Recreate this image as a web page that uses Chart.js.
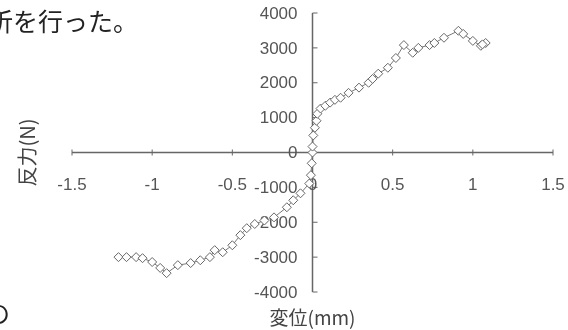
<!DOCTYPE html>
<html>
<head>
<meta charset="utf-8">
<script src="https://cdn.jsdelivr.net/npm/chart.js@4.4.1/dist/chart.umd.min.js"></script>
<style>
    html, body { margin: 0; padding: 0; background: #fff; }
    #wrap { position: relative; width: 568px; height: 330px; overflow: hidden; }
    #chartId { position: absolute; left: 0; top: 0; }
    .jp { position: absolute; font-family: "Noto Sans CJK JP"; color: #222; font-size: 25px; line-height: 1; white-space: nowrap; }
</style>
</head>
<body>
<div id="wrap">
    <canvas id="chartId" width="568" height="330"></canvas>
    <div class="jp" style="left:-12px; top:8px;">析を行った。</div>
    <div class="jp" style="left:-15px; top:300px;">の</div>
</div>
<script>
// displacement (mm) and reaction force (N),
// from the far negative end, through the origin, to the far positive end
const displacement = [
    -1.21, -1.16, -1.10, -1.06, -1.00, -0.95, -0.91, -0.84, -0.76, -0.70,
    -0.64, -0.61, -0.56, -0.50, -0.45, -0.41, -0.36, -0.30, -0.24, -0.16,
    -0.12, -0.075, -0.02, -0.01, -0.005, 0.0,
    0.0, 0.005, 0.015, 0.025, 0.03, 0.05, 0.08, 0.11, 0.14, 0.175,
    0.225, 0.29, 0.35, 0.375, 0.41, 0.47, 0.52, 0.57, 0.625, 0.66,
    0.73, 0.76, 0.82, 0.91, 0.94, 1.00, 1.05, 1.08, 1.06
];
const force = [
    -3000, -3000, -3000, -3030, -3140, -3310, -3460, -3230, -3170, -3090,
    -3000, -2800, -2860, -2660, -2370, -2170, -2050, -1950, -1860, -1570,
    -1370, -1170, -890, -650, -310, 0,
    170, 490, 710, 910, 1110, 1260, 1340, 1430, 1510, 1570,
    1710, 1860, 2000, 2110, 2260, 2430, 2710, 3080, 2860, 3000,
    3080, 3140, 3290, 3490, 3400, 3200, 3060, 3140, 3100
];

const xTicks = [-1.5, -1, -0.5, 0, 0.5, 1, 1.5];
const xTickLabels = ['-1.5', '-1', '-0.5', '0', '0.5', '1', '1.5'];
const yTicks = [4000, 3000, 2000, 1000, 0, -1000, -2000, -3000, -4000];
const yTickLabels = ['4000', '3000', '2000', '1000', '0', '-1000', '-2000', '-3000', '-4000'];

const xTitle = '変位(mm)';
const yTitle = '反力(N)';

document.addEventListener('DOMContentLoaded', function () {

    var points = displacement.map((d, i) => ({ x: d, y: force[i] }));

    // axes cross at the origin, so draw them ourselves from the scales
    const originAxes = {
        id: 'originAxes',
        beforeDatasetsDraw(chart) {
            const ctx = chart.ctx;
            const xs = chart.scales.x;
            const ys = chart.scales.y;
            const x0 = xs.getPixelForValue(0);
            const y0 = ys.getPixelForValue(0);
            ctx.save();
            ctx.strokeStyle = '#666';
            ctx.lineWidth = 1.5;

            ctx.beginPath();
            ctx.moveTo(xs.getPixelForValue(-1.5), y0);
            ctx.lineTo(xs.getPixelForValue(1.5), y0);
            ctx.stroke();

            ctx.beginPath();
            ctx.moveTo(x0, ys.getPixelForValue(4000));
            ctx.lineTo(x0, ys.getPixelForValue(-4000));
            ctx.stroke();

            ctx.lineWidth = 1;
            xTicks.forEach(v => {
                const px = xs.getPixelForValue(v);
                ctx.beginPath();
                ctx.moveTo(px, y0 - 3);
                ctx.lineTo(px, y0 + 3);
                ctx.stroke();
            });
            yTicks.forEach(v => {
                const py = ys.getPixelForValue(v);
                ctx.beginPath();
                ctx.moveTo(x0, py);
                ctx.lineTo(x0 + 5, py);
                ctx.stroke();
            });

            // tick labels
            ctx.fillStyle = '#555';
            ctx.font = '17px "Liberation Sans"';
            ctx.textBaseline = 'middle';
            ctx.textAlign = 'center';
            xTicks.forEach((v, i) => {
                ctx.fillText(xTickLabels[i], xs.getPixelForValue(v), y0 + 33);
            });
            ctx.textAlign = 'right';
            yTicks.forEach((v, i) => {
                ctx.fillText(yTickLabels[i], x0 - 15, ys.getPixelForValue(v) + 1);
            });

            // axis titles
            ctx.fillStyle = '#444';
            ctx.font = '19px "Noto Sans CJK JP"';
            ctx.textAlign = 'center';
            ctx.fillText(xTitle, x0, 318);
            ctx.font = '20px "Noto Sans CJK JP"';
            ctx.translate(27, y0);
            ctx.rotate(-Math.PI / 2);
            ctx.fillText(yTitle, 0, 0);
            ctx.restore();
        }
    };

    var chrt = document.getElementById('chartId').getContext('2d');
    var chartId = new Chart(chrt, {
        type: 'scatter',
        data: {
            datasets: [{
                label: yTitle,
                data: points,
                showLine: true,
                borderColor: '#777',
                borderWidth: 1,
                pointStyle: 'rectRot',
                pointRadius: 4.5,
                pointBorderWidth: 1,
                pointBorderColor: '#666',
                pointBackgroundColor: '#fff',
                clip: false
            }]
        },
        options: {
            responsive: false,
            animation: false,
            layout: { padding: { left: 72, right: 15, top: 13, bottom: 38 } },
            plugins: {
                legend: { display: false },
                tooltip: { enabled: false }
            },
            scales: {
                x: { type: 'linear', min: -1.5, max: 1.5, display: false },
                y: { type: 'linear', min: -4000, max: 4000, display: false }
            }
        },
        plugins: [originAxes]
    });
});
</script>
</body>
</html>
